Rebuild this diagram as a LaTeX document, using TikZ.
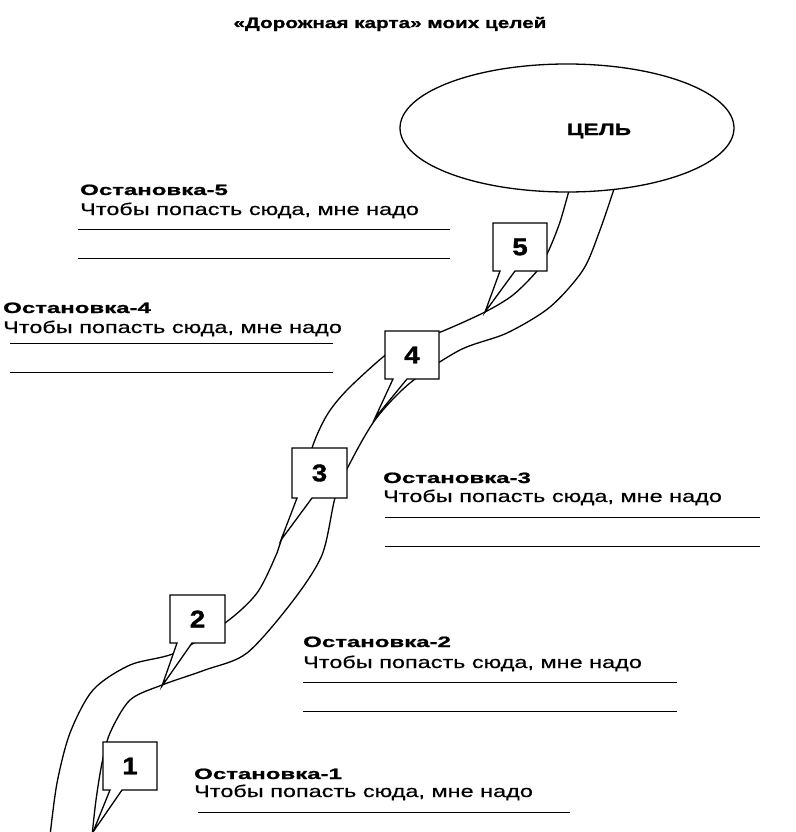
\documentclass[tikz,border=0pt]{standalone}
\usepackage{fontspec}
\setmainfont{Liberation Sans}
\newfontfamily\bodyfont[FakeStretch=1.38, FakeBold=0.5]{Liberation Sans}
\newfontfamily\headfont[FakeStretch=1.6, BoldFeatures={FakeBold=1.2}]{Liberation Sans}
\newfontfamily\titlefont[FakeStretch=1.38, BoldFeatures={FakeBold=1.2}]{Liberation Sans}
\newfontfamily\numfont[FakeStretch=1.15, BoldFeatures={FakeBold=1.5}]{Liberation Sans}
\tikzset{
  roadline/.style={line width=1.3pt, line join=round},
  stopbox/.style={draw, fill=white, line width=1.3pt, line join=miter},
  num/.style={font=\numfont\fontsize{24}{24}\selectfont\bfseries, inner sep=0pt},
  head/.style={anchor=base west, inner sep=0pt, font=\headfont\fontsize{15}{15}\selectfont\bfseries},
  body/.style={anchor=base west, inner sep=0pt, font=\bodyfont\fontsize{17}{17}\selectfont},
  rule/.style={line width=1pt},
}
\begin{document}
\begin{tikzpicture}[x=1pt, y=-1pt]
\useasboundingbox (0,0) rectangle (795,832);
% title
\node[anchor=base, inner sep=0pt, font=\titlefont\fontsize{15}{15}\selectfont\bfseries] (title) at (390,28) {«Дорожная карта» моих целей};
% road edges
\draw[roadline] plot[smooth, tension=0.5] coordinates {(571,183) (560,222) (548,252) (537,271) (513,295) (485,312) (443,331) (400,347) (383,357) (347,390) (327,415) (312,448) (300,498) (282,538) (277,553) (257,593) (225,623) (175,653) (130,665) (93,690) (70,733) (57,783) (50,836)};
\draw[roadline] plot[smooth, tension=0.5] coordinates {(616,183) (600,230) (583,270) (550,307) (507,333) (460,350) (410,383) (375,420) (348,467) (335,498) (322,555) (292,602) (247,653) (205,670) (162,685) (130,700) (110,733) (102,763) (96,800) (92,836)};
% goal
\draw[roadline, fill=white] (567,128) ellipse [x radius=167, y radius=64];
\node[inner sep=0pt, font=\titlefont\fontsize{16.5}{16.5}\selectfont\bfseries] (goal) at (599,131) {ЦЕЛЬ};
% stop boxes
\path[stopbox] (493,223) -- (547,223) -- (547,271) -- (515,271) -- (485,312) -- (500,271) -- (493,271) -- cycle;
\node[num] (n5) at (520,247) {5};
\path[stopbox] (385,331) -- (439,331) -- (439,379) -- (407,379) -- (375,418) -- (393,379) -- (385,379) -- cycle;
\node[num] (n4) at (412,355) {4};
\path[stopbox] (292,448) -- (347,448) -- (347,498) -- (312,498) -- (281,540) -- (297,498) -- (292,498) -- cycle;
\node[num] (n3) at (319.5,473) {3};
\path[stopbox] (170,595) -- (225,595) -- (225,643) -- (192,643) -- (162,686) -- (177,643) -- (170,643) -- cycle;
\node[num] (n2) at (197.5,619) {2};
\path[stopbox] (103,742) -- (157,742) -- (157,790) -- (122,790) -- (93,832) -- (110,790) -- (103,790) -- cycle;
\node[num] (n1) at (130,766) {1};
% stop 5
\node[head] (h5) at (80,195) {Остановка-5};
\node[body] (b5) at (80,215) {Чтобы попасть сюда, мне надо};
\draw[rule] (78,229) -- (450,229);
\draw[rule] (78,258) -- (450,258);
% stop 4
\node[head] (h4) at (3,313) {Остановка-4};
\node[body] (b4) at (3,333) {Чтобы попасть сюда, мне надо};
\draw[rule] (10,343) -- (333,343);
\draw[rule] (10,372) -- (333,372);
% stop 3
\node[head] (h3) at (383,483) {Остановка-3};
\node[body] (b3) at (383,502) {Чтобы попасть сюда, мне надо};
\draw[rule] (385,517) -- (760,517);
\draw[rule] (385,546) -- (760,546);
% stop 2
\node[head] (h2) at (303,647) {Остановка-2};
\node[body] (b2) at (303,668) {Чтобы попасть сюда, мне надо};
\draw[rule] (303,682) -- (677,682);
\draw[rule] (303,711) -- (677,711);
% stop 1
\node[head] (h1) at (194,779) {Остановка-1};
\node[body] (b1) at (194,797) {Чтобы попасть сюда, мне надо};
\draw[rule] (198,812) -- (570,812);
\end{tikzpicture}
\end{document}
